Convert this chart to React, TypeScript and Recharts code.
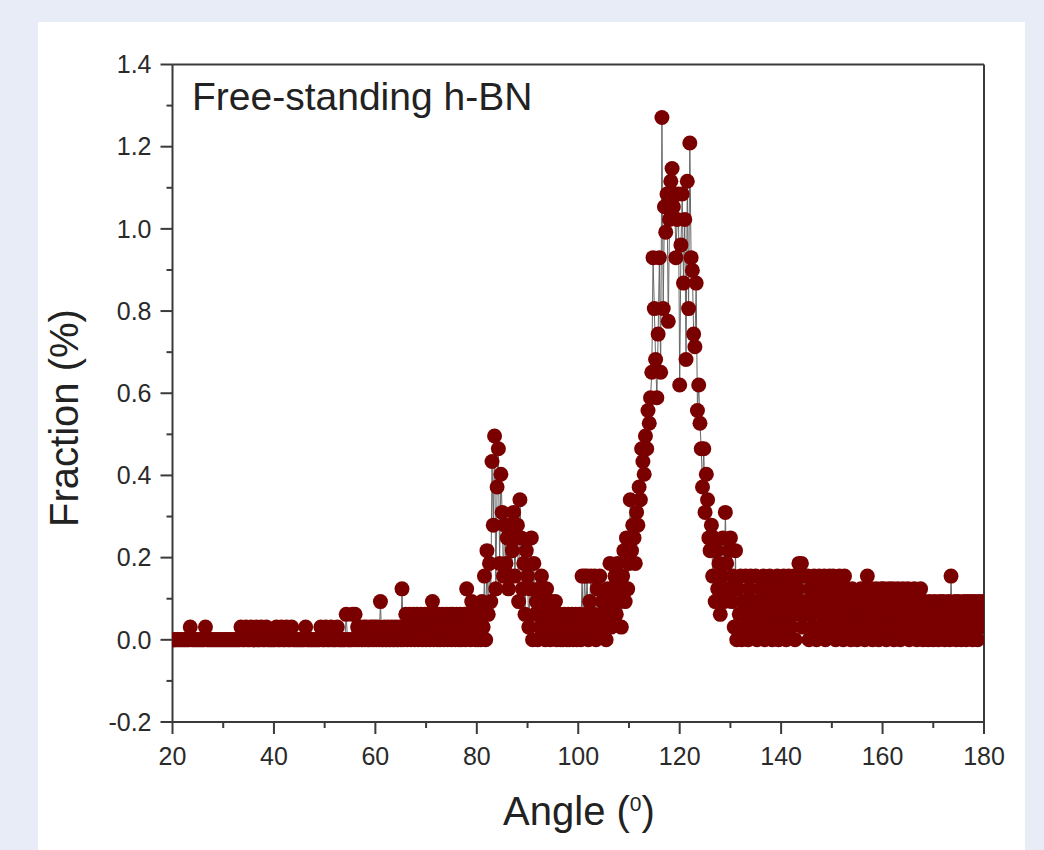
import { ComposedChart, Line, ReferenceLine, Scatter, XAxis, YAxis } from 'recharts';

// angle histogram, 0.25° bins; each row is [first angle, 20 fractions (%)]
const ANGLE_STEP = 0.25;

const baselineRows: [number, number[]][] = [
    [20, [0, 0, 0, 0, 0, 0, 0, 0, 0, 0, 0, 0, 0, 0, .031, 0, 0, 0, 0, 0]],
    [25, [0, 0, 0, 0, 0, 0, .031, 0, 0, 0, 0, 0, 0, 0, 0, 0, 0, 0, 0, 0]],
    [30, [0, 0, 0, 0, 0, 0, 0, 0, 0, 0, 0, 0, 0, 0, .031, 0, 0, 0, .031, 0]],
    [35, [0, 0, .031, 0, 0, 0, .031, 0, 0, 0, .031, 0, 0, 0, .031, 0, 0, 0, 0, 0]],
    [40, [0, 0, .031, 0, 0, 0, .031, 0, 0, 0, .031, 0, 0, 0, .031, 0, 0, 0, 0, 0]],
    [45, [0, 0, 0, 0, 0, .031, 0, 0, 0, 0, 0, 0, 0, 0, 0, 0, 0, .031, 0, 0]],
    [50, [0, .031, 0, 0, 0, .031, 0, 0, 0, 0, .031, 0, 0, 0, 0, 0, 0, .062, 0, 0]],
    [55, [0, 0, .062, 0, .062, 0, .031, 0, .031, 0, 0, .031, 0, .031, 0, 0, .031, 0, .031, 0]],
    [60, [.031, 0, .031, 0, .093, 0, 0, .031, 0, 0, .031, 0, 0, .031, 0, 0, .031, 0, 0, .031]],
    [65, [0, .124, 0, .031, .062, 0, .031, .062, 0, .031, .062, 0, .031, .062, 0, .031, .062, 0, .031, .062]],
    [70, [0, .031, .062, 0, .031, .093, 0, .062, .031, 0, .062, 0, .031, .062, 0, .031, .062, 0, .031, .062]],
    [75, [0, .062, .031, 0, .062, .031, 0, .062, 0, .031, .062, 0, .124, .031, .062, 0, .093, .031, .062, 0]],
];

const secondPeakRows: [number, number[]][] = [
    [80, [.031, 0, .062, 0, .093, .031, .155, 0, .217, .062, .186, .093, .434, .279, .496, .124, .372, .465, .186, .403]],
    [85, [.31, .155, .279, .186, .248, .124, .279, .155, .217, .31, .155, .248, .279, .093, .341, .248, .124, .186, .062, .217]],
    [90, [.155, .031, .124, .248, 0, .186, .062, .093, 0, .124, .031, .155, .062, .093, 0, .124, .031, .062, 0, .093]],
    [95, [.031, .062, .093, 0, .031, .062, 0, .031, 0, .062, .031, 0, .062, 0, .031, .062, 0, .031, .062, 0]],
];

const mainPeakRows: [number, number[]][] = [
    [100, [.031, .062, 0, .155, .031, .155, .062, .155, 0, .093, .155, .031, .062, .155, 0, .124, .031, .155, .062, .093]],
    [105, [.031, .093, 0, .124, .062, .186, .031, .124, .093, .155, .062, .186, .093, .124, .031, .155, .217, .093, .248, .124]],
    [110, [.186, .341, .217, .279, .248, .186, .31, .279, .372, .341, .465, .434, .403, .496, .465, .558, .527, .589, .651, .93]],
    [115, [.806, .682, .589, .744, .93, .651, 1.271, .806, 1.054, .992, 1.085, .775, 1.023, 1.116, 1.147, 1.054, 1.085, .93, 1.023, 1.085]],
    [120, [.62, .961, 1.085, .868, 1.023, .682, 1.116, .806, 1.209, .93, .899, .744, .713, .868, .558, .62, .527, .465, .372, .465]],
    [125, [.31, .403, .341, .248, .217, .279, .155, .248, .093, .217, .124, .186, .062, .155, .248, .093, .31, .186, .124, .217]],
    [130, [.248, .093, .155, .031, .217, 0, .124, .062, .155, 0, .093, .031, .155, .062, 0, .124, .155, .031, .093, .062]],
];

const tailRows: [number, number[]][] = [
    [135, [.155, 0, .093, .031, .124, .062, .155, 0, .093, .124, .031, .155, .062, 0, .124, .093, .031, .155, 0, .062]],
    [140, [.124, .031, .155, .093, 0, .062, .155, .124, .031, .093, .155, 0, .062, .124, .186, .093, .186, .031, .155, .062]],
    [145, [.093, .155, 0, .124, .062, .031, .155, .093, 0, .124, .155, .062, .031, .093, .155, 0, .124, .062, .155, .031]],
    [150, [.093, .155, .062, 0, .124, .031, .155, .093, .062, 0, .155, .124, .031, .062, .093, 0, .124, .031, .062, .093]],
    [155, [0, .093, .062, .124, .031, .062, 0, .093, .155, .031, .062, .124, 0, .093, .031, .124, .062, 0, .093, .124]],
    [160, [.031, .124, .062, 0, .093, .124, .031, .062, .124, 0, .093, .031, .124, .062, 0, .093, .124, .031, .062, .093]],
    [165, [.124, 0, .062, .093, .031, .124, .062, 0, .093, .031, .124, .062, 0, .093, .031, .062, 0, .093, .031, .062]],
    [170, [0, .093, .031, .062, 0, .093, .031, .062, .093, 0, .031, .062, .093, 0, .155, .031, .062, .093, 0, .031]],
    [175, [.093, .062, 0, .031, .093, .062, 0, .093, .031, .062, .093, 0, .031, .093, .062, 0, .093, .031, .062, .093]],
    [180, [.062]],
];

const xTicks = [20, 30, 40, 50, 60, 70, 80, 90, 100, 110, 120, 130, 140, 150, 160, 170, 180];
const yTicks = [-0.2, -0.1, 0, 0.1, 0.2, 0.3, 0.4, 0.5, 0.6, 0.7, 0.8, 0.9, 1.0, 1.1, 1.2, 1.3, 1.4];

const FONT = '"Liberation Sans", Arial, Helvetica, sans-serif';
const AXIS = '#3a3a3a';
const DOT = '#7a0000';

const data = [...baselineRows, ...secondPeakRows, ...mainPeakRows, ...tailRows].flatMap(([from, vals]) =>
    vals.map((frac, i) => ({ angle: from + i * ANGLE_STEP, frac }))
);

const XTick = ({ x, y, payload }: any) => {
    const major = payload.value % 20 === 0;
    return (
        <g>
            <line x1={x} x2={x} y1={y} y2={y + (major ? 12 : 6)} stroke={AXIS} strokeWidth={2} />
            {major && (
                <text x={x} y={y + 43} textAnchor="middle" fontSize={25} fill="#2a2a2a" fontFamily={FONT}>
                    {payload.value}
                </text>
            )}
        </g>
    );
};

const YTick = ({ x, y, payload }: any) => {
    const major = Math.round(payload.value * 10) % 2 === 0;
    return (
        <g>
            <line x1={x - (major ? 12 : 6)} x2={x} y1={y} y2={y} stroke={AXIS} strokeWidth={2} />
            {major && (
                <text x={x - 21} y={y} dy="0.35em" textAnchor="end" fontSize={25} fill="#2a2a2a" fontFamily={FONT}>
                    {payload.value.toFixed(1)}
                </text>
            )}
        </g>
    );
};

const Dot = (p: any) => <circle cx={p.cx} cy={p.cy} r={7.5} fill={DOT} />;

export default function App() {
    return (
        <div style={{ position: 'absolute', left: 0, top: 0, width: 1044, height: 850, background: '#e8ecf7', overflow: 'hidden' }}>
            <div style={{ position: 'absolute', left: 38, top: 22, width: 987, height: 828, background: '#fff' }} />
            <div style={{ position: 'absolute', left: 0, top: 0 }}>
                <ComposedChart width={1044} height={850} data={data} margin={{ top: 64.5, right: 60, bottom: 78, left: 112.5 }}>
                    <XAxis
                        dataKey="angle"
                        type="number"
                        domain={[20, 180]}
                        ticks={xTicks}
                        interval={0}
                        allowDataOverflow
                        height={50}
                        tickSize={0}
                        tickMargin={0}
                        tickLine={false}
                        tick={XTick}
                        axisLine={{ stroke: AXIS, strokeWidth: 2 }}
                    />
                    <YAxis
                        type="number"
                        domain={[-0.2, 1.4]}
                        ticks={yTicks}
                        interval={0}
                        allowDataOverflow
                        width={60}
                        tickSize={0}
                        tickMargin={0}
                        tickLine={false}
                        tick={YTick}
                        axisLine={{ stroke: AXIS, strokeWidth: 2 }}
                    />
                    <ReferenceLine y={1.4} stroke={AXIS} strokeWidth={2} />
                    <ReferenceLine x={180} stroke={AXIS} strokeWidth={2} />
                    <Line dataKey="frac" type="linear" stroke="#666" strokeWidth={1} dot={false} activeDot={false} isAnimationActive={false} />
                    <Scatter dataKey="frac" fill={DOT} shape={Dot} isAnimationActive={false} />
                </ComposedChart>
            </div>
            <svg width={1044} height={850} style={{ position: 'absolute', left: 0, top: 0, pointerEvents: 'none' }} fontFamily={FONT}>
                <text x={192} y={110} fontSize={39} fill="#222">Free-standing h-BN</text>
                <text x={579} y={825} textAnchor="middle" fontSize={40} fill="#222">
                    Angle (<tspan fontSize={21} dy={-14}>0</tspan><tspan dy={14}>)</tspan>
                </text>
                <text transform="translate(78, 418) rotate(-90)" textAnchor="middle" fontSize={40} fill="#222">
                    Fraction (%)
                </text>
            </svg>
        </div>
    );
}
